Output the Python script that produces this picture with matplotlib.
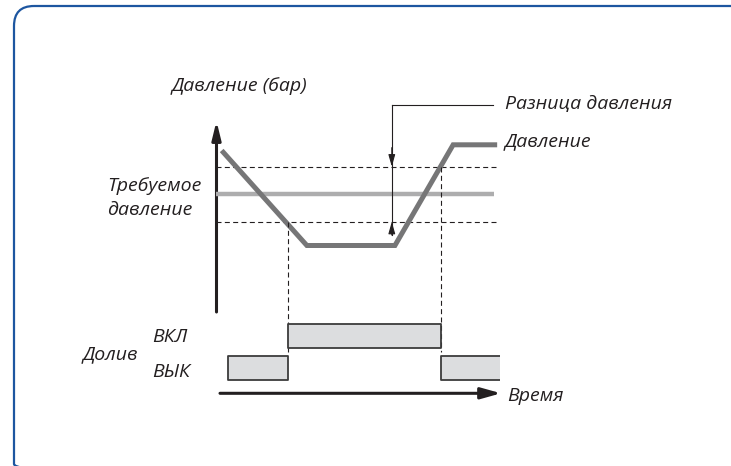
import matplotlib
matplotlib.use("Agg")
import matplotlib.pyplot as plt
from matplotlib.patches import FancyBboxPatch

# ---------------- data ----------------
time_pts = [0.2, 3.2, 6.3, 8.35, 9.9]          # time (arbitrary units)
pressure_pts = [8.5, 3.5, 3.5, 8.8, 8.8]       # pressure (arbitrary units)
setpoint = 6.2                                  # required pressure
upper_limit = 7.65                              # setpoint + half difference
lower_limit = 4.75                              # setpoint - half difference
t_pump_on = 2.52                                # pressure reaches lower limit
t_pump_off = 7.92                               # pressure reaches upper limit
on_intervals = [(t_pump_on, t_pump_off - t_pump_on)]
off_intervals = [(0.43, t_pump_on - 0.43), (t_pump_off, 10.02 - t_pump_off)]
row_on, row_off = 1.0, 0.0
t_diff_marker = 6.19

labels = {
    "y": "Давление (бар)",
    "diff": "Разница давления",
    "pressure": "Давление",
    "setpoint": "Требуемое\nдавление",
    "pump": "Долив",
    "on": "ВКЛ",
    "off": "ВЫК",
    "time": "Время",
}

W, H = 731, 466
fig = plt.figure(figsize=(W / 100, H / 100), dpi=100)
plt.rcParams['font.family'] = ['Open Sans', 'DejaVu Sans']

# overlay in pixel coordinates (frame, axis arrows, labels)
ov = fig.add_axes([0, 0, 1, 1])
ov.set_xlim(0, W)
ov.set_ylim(H, 0)
ov.axis('off')

frame = FancyBboxPatch((14, 6), 780, 478, boxstyle="round,pad=0,rounding_size=20",
                       fill=False, ec='#1d56a0', lw=1.6, clip_on=True)
ov.add_patch(frame)

txt = dict(style='italic', color='#231f20', fontsize=14)
ov.text(172, 86, labels["y"], ha='left', va='center', **txt)
ov.text(505, 104, labels["diff"], ha='left', va='center', **txt)
ov.text(505, 141, labels["pressure"], ha='left', va='center', **txt)
ov.text(107, 198, labels["setpoint"], ha='left', va='center', linespacing=1.45, **txt)
ov.text(83, 354, labels["pump"], ha='left', va='center', **txt)
ov.text(152, 337, labels["on"], ha='left', va='center', **txt)
ov.text(152, 372, labels["off"], ha='left', va='center', **txt)
ov.text(507, 396, labels["time"], ha='left', va='center', **txt)

# axis arrows
ov.annotate('', xy=(216.5, 121), xytext=(216.5, 312),
            arrowprops=dict(arrowstyle='-|>,head_length=0.9,head_width=0.22',
                            mutation_scale=12, lw=2.2, color='#231f20',
                            shrinkA=0, shrinkB=0))
ov.annotate('', xy=(501, 393.3), xytext=(220, 393.3),
            arrowprops=dict(arrowstyle='-|>,head_length=1.0,head_width=0.28',
                            mutation_scale=12, lw=2.2, color='#231f20',
                            shrinkA=0, shrinkB=0))

# pressure panel
axp = fig.add_axes([216 / W, (H - 312) / H, 284 / W, 190 / H])
axp.set_xlim(0, 10)
axp.set_ylim(0, 10)
axp.axis('off')

dash = dict(color='#231f20', lw=0.8, ls=(0, (4.5, 3)))
axp.plot([0, 9.93], [upper_limit, upper_limit], **dash)
axp.plot([0, 9.93], [lower_limit, lower_limit], **dash)
axp.plot([0, 9.8], [setpoint, setpoint], color='#adadae', lw=3.2, solid_capstyle='butt')
axp.plot(time_pts, pressure_pts, color='#767677', lw=3.6,
         solid_joinstyle='miter', solid_capstyle='butt')

# vertical dashed switching lines (down into pump panel)
axp.plot([t_pump_on, t_pump_on], [lower_limit, -2.1], clip_on=False, **dash)
axp.plot([t_pump_off, t_pump_off], [upper_limit, -2.1], clip_on=False, **dash)

# pressure difference marker
top_p, bot_p = 10.89, 4.05
axp.plot([t_diff_marker, t_diff_marker], [top_p, bot_p], color='#231f20', lw=0.8, clip_on=False)
axp.plot([t_diff_marker, 9.75], [top_p, top_p], color='#231f20', lw=0.8, clip_on=False)
hs = dict(arrowstyle='-|>,head_length=0.6,head_width=0.17', mutation_scale=12,
          lw=0.8, color='#231f20', shrinkA=0, shrinkB=0)
axp.annotate('', xy=(t_diff_marker, upper_limit), xytext=(t_diff_marker, upper_limit + 1.0),
             arrowprops=hs, annotation_clip=False)
axp.annotate('', xy=(t_diff_marker, lower_limit), xytext=(t_diff_marker, lower_limit - 0.7),
             arrowprops=hs, annotation_clip=False)

# pump state panel
axs = fig.add_axes([216 / W, (H - 400) / H, 284 / W, 96 / H])
axs.set_xlim(0, 10)
axs.set_ylim(-1, 2)
axs.axis('off')
bar_h = 0.76
axs.broken_barh(on_intervals, (row_on - bar_h / 2, bar_h), facecolors='#dcdddf',
                edgecolors='#3c3c3c', linewidth=1.3)
axs.broken_barh(off_intervals, (row_off - bar_h / 2, bar_h), facecolors='#dcdddf',
                edgecolors='#3c3c3c', linewidth=1.3)

fig.savefig('out.png', dpi=100)
